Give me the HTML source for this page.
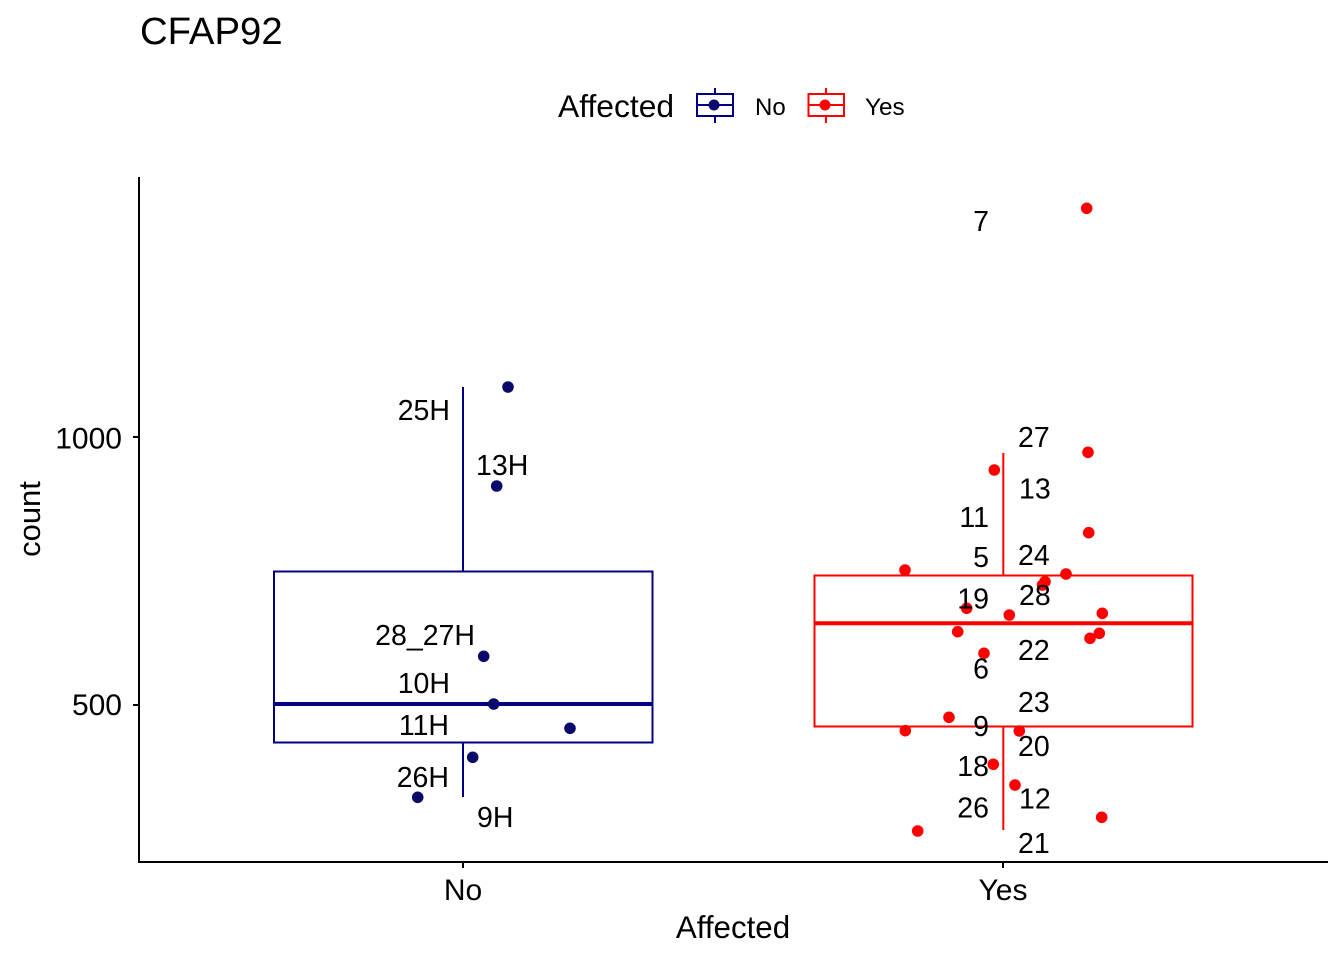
<!DOCTYPE html>
<html>
<head>
<meta charset="utf-8">
<style>
html,body{margin:0;padding:0;background:#fff;}
svg{display:block;}
text{font-family:"Liberation Sans",Arial,sans-serif;fill:#000;}
</style>
</head>
<body>
<svg width="1344" height="960" viewBox="0 0 1344 960" xmlns="http://www.w3.org/2000/svg">
<rect width="1344" height="960" fill="#fff"/>

<!-- Title -->
<text x="140" y="44" font-size="38.3">CFAP92</text>

<!-- Legend -->
<text x="558" y="117" font-size="31.8">Affected</text>
<g stroke="#000080" stroke-width="2" fill="none">
  <line x1="715" y1="88" x2="715" y2="94"/>
  <line x1="715" y1="116" x2="715" y2="123"/>
  <rect x="697" y="94" width="36" height="22"/>
  <line x1="697" y1="105" x2="733" y2="105"/>
</g>
<circle cx="714" cy="105" r="5.5" fill="#0a0a6a"/>
<text x="755" y="115" font-size="24">No</text>
<g stroke="#ff0000" stroke-width="2" fill="none">
  <line x1="826" y1="88" x2="826" y2="94"/>
  <line x1="826" y1="116" x2="826" y2="123"/>
  <rect x="808.5" y="94" width="35.5" height="22"/>
  <line x1="808.5" y1="105" x2="844" y2="105"/>
</g>
<circle cx="825" cy="105" r="5.5" fill="#ff0000"/>
<text x="865" y="115" font-size="24.3">Yes</text>

<!-- Axes -->
<g stroke="#000" stroke-width="2" fill="none">
  <line x1="139" y1="177" x2="139" y2="863"/>
  <line x1="138" y1="862" x2="1328" y2="862"/>
  <line x1="133" y1="437" x2="139" y2="437"/>
  <line x1="133" y1="705" x2="139" y2="705"/>
  <line x1="463" y1="862" x2="463" y2="868"/>
  <line x1="1003" y1="862" x2="1003" y2="868"/>
</g>
<text x="122" y="448.5" font-size="30" text-anchor="end">1000</text>
<text x="122" y="715" font-size="30" text-anchor="end">500</text>
<text x="463" y="900" font-size="30" text-anchor="middle">No</text>
<text x="1003" y="900" font-size="30" text-anchor="middle">Yes</text>
<text x="733" y="938" font-size="31.3" text-anchor="middle">Affected</text>
<text transform="translate(40,519) rotate(-90)" font-size="31" text-anchor="middle">count</text>

<!-- No boxplot -->
<g stroke="#000080" fill="none">
  <line x1="463" y1="387" x2="463" y2="571" stroke-width="2"/>
  <line x1="463" y1="743" x2="463" y2="797" stroke-width="2"/>
  <rect x="274" y="571.5" width="378.5" height="171" stroke-width="2"/>
  <line x1="274" y1="704" x2="652.5" y2="704" stroke-width="4"/>
</g>

<!-- Yes boxplot -->
<g stroke="#ff0000" fill="none">
  <line x1="1003.3" y1="453" x2="1003.3" y2="575.5" stroke-width="2"/>
  <line x1="1003.3" y1="727" x2="1003.3" y2="830" stroke-width="2"/>
  <rect x="814.5" y="575.5" width="378" height="151" stroke-width="2"/>
  <line x1="814.5" y1="623.3" x2="1192.5" y2="623.3" stroke-width="4"/>
</g>

<!-- No points -->
<g fill="#0a0a6a">
  <circle cx="508" cy="387" r="5.8"/>
  <circle cx="496.7" cy="486" r="5.8"/>
  <circle cx="483.7" cy="656.3" r="5.8"/>
  <circle cx="493.7" cy="704" r="5.8"/>
  <circle cx="570" cy="728.3" r="5.8"/>
  <circle cx="472.7" cy="757.3" r="5.8"/>
  <circle cx="417.7" cy="797.3" r="5.8"/>
</g>

<!-- Yes points -->
<g fill="#ff0000">
  <circle cx="1086.7" cy="208.3" r="5.8"/>
  <circle cx="1088" cy="452.3" r="5.8"/>
  <circle cx="994.3" cy="470" r="5.8"/>
  <circle cx="1088.7" cy="532.7" r="5.8"/>
  <circle cx="905" cy="570" r="5.8"/>
  <circle cx="1066" cy="574" r="5.8"/>
  <circle cx="1045" cy="581.7" r="5.8"/>
  <circle cx="1042.5" cy="585" r="5.8"/>
  <circle cx="966.7" cy="608.3" r="5.8"/>
  <circle cx="1009.3" cy="615" r="5.8"/>
  <circle cx="1102.3" cy="613.3" r="5.8"/>
  <circle cx="957.7" cy="631.7" r="5.8"/>
  <circle cx="1099.3" cy="633.3" r="5.8"/>
  <circle cx="1090" cy="638.3" r="5.8"/>
  <circle cx="984" cy="653.3" r="5.8"/>
  <circle cx="949" cy="717.3" r="5.8"/>
  <circle cx="905.3" cy="730.7" r="5.8"/>
  <circle cx="1019.3" cy="731" r="5.8"/>
  <circle cx="993.3" cy="764.3" r="5.8"/>
  <circle cx="1015" cy="785" r="5.8"/>
  <circle cx="1101.7" cy="817.3" r="5.8"/>
  <circle cx="917.7" cy="831" r="5.8"/>
</g>

<!-- No labels -->
<g font-size="28.5">
  <text x="450" y="420" text-anchor="end">25H</text>
  <text x="476" y="475">13H</text>
  <text x="475" y="645" text-anchor="end">28_27H</text>
  <text x="450" y="693" text-anchor="end">10H</text>
  <text x="449" y="735" text-anchor="end">11H</text>
  <text x="449" y="787" text-anchor="end">26H</text>
  <text x="477" y="827">9H</text>
</g>

<!-- Yes labels -->
<g font-size="28.5">
  <text x="989" y="231" text-anchor="end">7</text>
  <text x="1018" y="447">27</text>
  <text x="1019" y="498.5">13</text>
  <text x="989" y="527" text-anchor="end">11</text>
  <text x="989" y="567" text-anchor="end">5</text>
  <text x="1018" y="565">24</text>
  <text x="989" y="608.5" text-anchor="end">19</text>
  <text x="1019" y="605">28</text>
  <text x="1018" y="660">22</text>
  <text x="989" y="678.5" text-anchor="end">6</text>
  <text x="1018" y="712">23</text>
  <text x="989" y="736" text-anchor="end">9</text>
  <text x="1018" y="756">20</text>
  <text x="989" y="776" text-anchor="end">18</text>
  <text x="1019" y="808.5">12</text>
  <text x="989" y="817.5" text-anchor="end">26</text>
  <text x="1018" y="853">21</text>
</g>
</svg>
</body>
</html>
